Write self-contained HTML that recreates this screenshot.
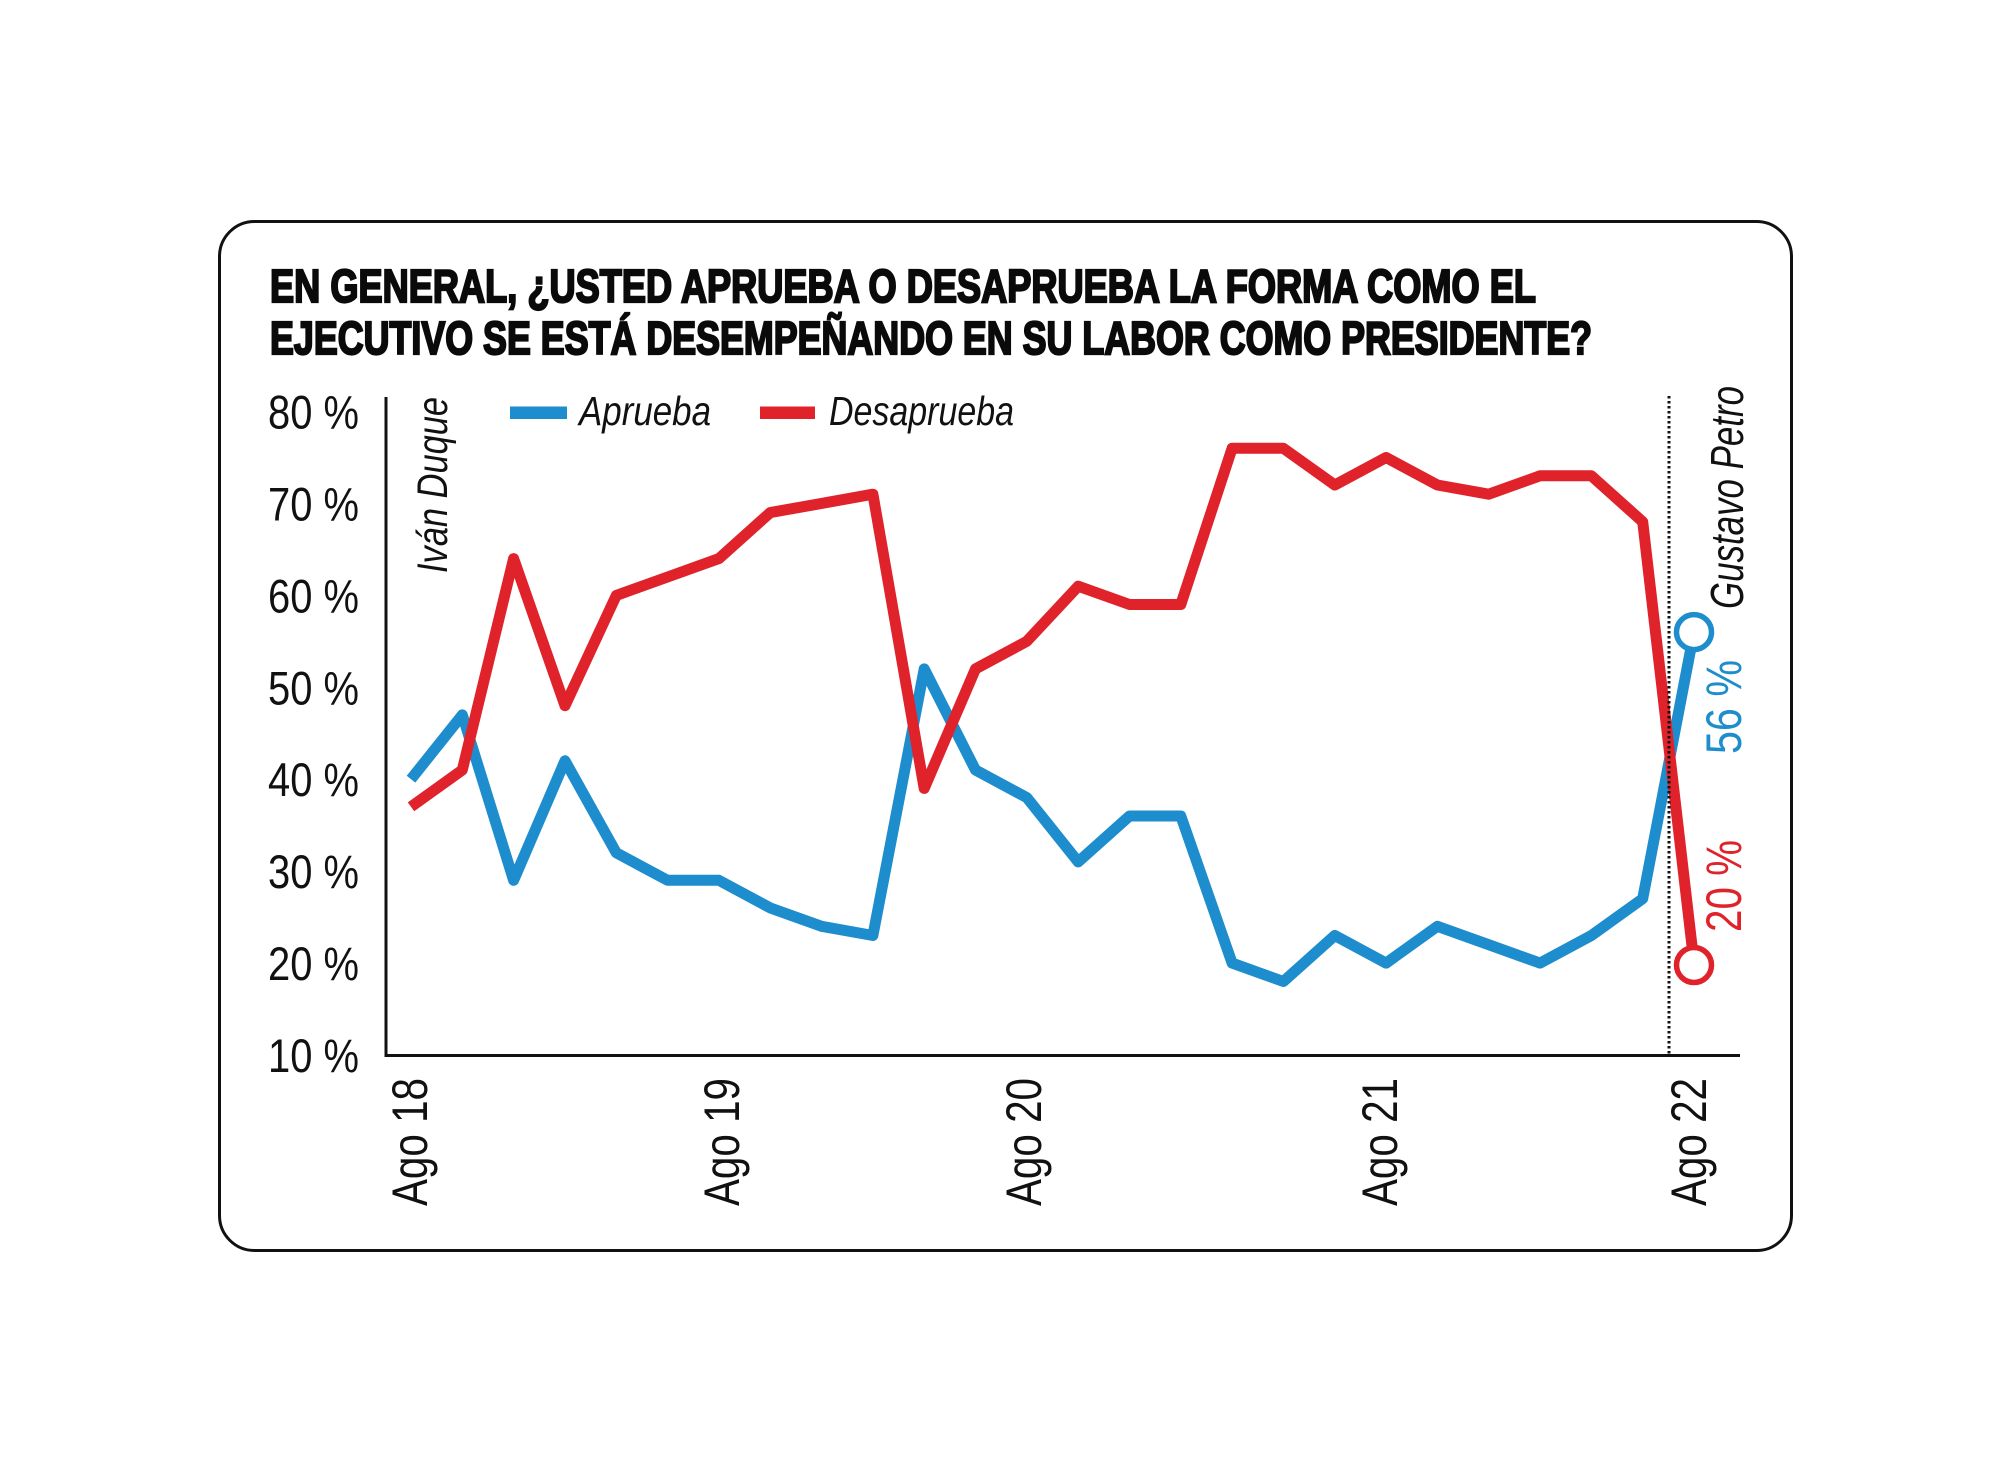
<!DOCTYPE html>
<html>
<head>
<meta charset="utf-8">
<style>
  html, body { margin: 0; padding: 0; background: #ffffff; }
  svg { display: block; }
</style>
</head>
<body>
<svg width="2000" height="1471" viewBox="0 0 2000 1471" xmlns="http://www.w3.org/2000/svg">
  <rect x="0" y="0" width="2000" height="1471" fill="#ffffff"/>
  <!-- card -->
  <rect x="219.5" y="221.5" width="1572" height="1029" rx="35" ry="35" fill="#ffffff" stroke="#111111" stroke-width="3"/>

  <!-- title -->
  <g font-family="'Liberation Sans', Arial, sans-serif" font-weight="bold" font-size="46" fill="#0a0a0a" stroke="#0a0a0a" stroke-width="2.2" stroke-linejoin="miter">
    <text x="270" y="302" textLength="1266" lengthAdjust="spacingAndGlyphs">EN GENERAL, ¿USTED APRUEBA O DESAPRUEBA LA FORMA COMO EL</text>
    <text x="270" y="354" textLength="1322" lengthAdjust="spacingAndGlyphs">EJECUTIVO SE ESTÁ DESEMPEÑANDO EN SU LABOR COMO PRESIDENTE?</text>
  </g>

  <!-- y labels -->
  <g font-family="'Liberation Sans', Arial, sans-serif" font-size="47" fill="#111111" text-anchor="end">
    <text x="359" y="428.5" textLength="91" lengthAdjust="spacingAndGlyphs">80 %</text>
    <text x="359" y="520.4" textLength="91" lengthAdjust="spacingAndGlyphs">70 %</text>
    <text x="359" y="612.4" textLength="91" lengthAdjust="spacingAndGlyphs">60 %</text>
    <text x="359" y="704.3" textLength="91" lengthAdjust="spacingAndGlyphs">50 %</text>
    <text x="359" y="796.2" textLength="91" lengthAdjust="spacingAndGlyphs">40 %</text>
    <text x="359" y="888.1" textLength="91" lengthAdjust="spacingAndGlyphs">30 %</text>
    <text x="359" y="980.1" textLength="91" lengthAdjust="spacingAndGlyphs">20 %</text>
    <text x="359" y="1072" textLength="91" lengthAdjust="spacingAndGlyphs">10 %</text>
  </g>

  <!-- axes -->
  <line x1="386" y1="397" x2="386" y2="1056.5" stroke="#111111" stroke-width="3"/>
  <line x1="384.5" y1="1055.5" x2="1740" y2="1055.5" stroke="#111111" stroke-width="3"/>

  <!-- x labels -->
  <g font-family="'Liberation Sans', Arial, sans-serif" font-size="50" fill="#111111">
    <text transform="translate(427,1206) rotate(-90)" textLength="128" lengthAdjust="spacingAndGlyphs">Ago 18</text>
    <text transform="translate(739,1206) rotate(-90)" textLength="128" lengthAdjust="spacingAndGlyphs">Ago 19</text>
    <text transform="translate(1041,1206) rotate(-90)" textLength="128" lengthAdjust="spacingAndGlyphs">Ago 20</text>
    <text transform="translate(1397,1206) rotate(-90)" textLength="128" lengthAdjust="spacingAndGlyphs">Ago 21</text>
    <text transform="translate(1706,1206) rotate(-90)" textLength="128" lengthAdjust="spacingAndGlyphs">Ago 22</text>
  </g>

  <!-- legend -->
  <rect x="510" y="406.5" width="57" height="12.5" fill="#1e8dcd"/>
  <rect x="760" y="406.5" width="55" height="12.5" fill="#e0232b"/>
  <g font-family="'Liberation Sans', Arial, sans-serif" font-style="italic" font-size="41" fill="#111111">
    <text x="579" y="425" textLength="132" lengthAdjust="spacingAndGlyphs">Aprueba</text>
    <text x="829" y="425" textLength="185" lengthAdjust="spacingAndGlyphs">Desaprueba</text>
  </g>

  <!-- rotated name labels -->
  <g font-family="'Liberation Sans', Arial, sans-serif" font-style="italic" fill="#111111">
    <text transform="translate(447,573) rotate(-90)" font-size="43" textLength="176" lengthAdjust="spacingAndGlyphs">Iván Duque</text>
    <text transform="translate(1743,609) rotate(-90)" font-size="46" textLength="223" lengthAdjust="spacingAndGlyphs">Gustavo Petro</text>
  </g>

  <!-- series -->
  <polyline fill="none" stroke="#1e8dcd" stroke-width="11" stroke-linejoin="round" stroke-linecap="butt"
    points="411,779.2 462.3,714.9 513.6,880.3 565,760.8 616.3,852.8 667.6,880.3 718.9,880.3 770.2,907.9 821.6,926.3 872.9,935.5 924.2,668.9 975.5,770 1026.8,797.6 1078.2,861.9 1129.5,816 1180.8,816 1232.1,963.1 1283.4,981.5 1334.8,935.5 1386.1,963.1 1437.4,926.3 1488.7,944.7 1540,963.1 1591.4,935.5 1642.7,898.7 1694,632.1"/>
  <polyline fill="none" stroke="#e0232b" stroke-width="11" stroke-linejoin="round" stroke-linecap="butt"
    points="411,806.8 462.3,770 513.6,558.6 565,705.7 616.3,595.4 667.6,577 718.9,558.6 770.2,512.6 821.6,503.4 872.9,494.2 924.2,788.4 975.5,668.9 1026.8,641.3 1078.2,586.2 1129.5,604.5 1180.8,604.5 1232.1,448.3 1283.4,448.3 1334.8,485 1386.1,457.5 1437.4,485 1488.7,494.2 1540,475.8 1591.4,475.8 1642.7,521.8 1694,963.1"/>

  <!-- dotted divider -->
  <line x1="1669" y1="396" x2="1669" y2="1054" stroke="#111111" stroke-width="3" stroke-dasharray="2.5 2.5"/>

  <!-- end markers -->
  <circle cx="1694" cy="632.1" r="17.5" fill="#ffffff" stroke="#1e8dcd" stroke-width="5.5"/>
  <circle cx="1694" cy="965" r="17.5" fill="#ffffff" stroke="#e0232b" stroke-width="5.5"/>

  <!-- end values -->
  <g font-family="'Liberation Sans', Arial, sans-serif" font-size="50">
    <text transform="translate(1741,754) rotate(-90)" fill="#1e8dcd" textLength="94" lengthAdjust="spacingAndGlyphs">56 %</text>
    <text transform="translate(1741,932) rotate(-90)" fill="#e0232b" textLength="92" lengthAdjust="spacingAndGlyphs">20 %</text>
  </g>
</svg>
</body>
</html>
